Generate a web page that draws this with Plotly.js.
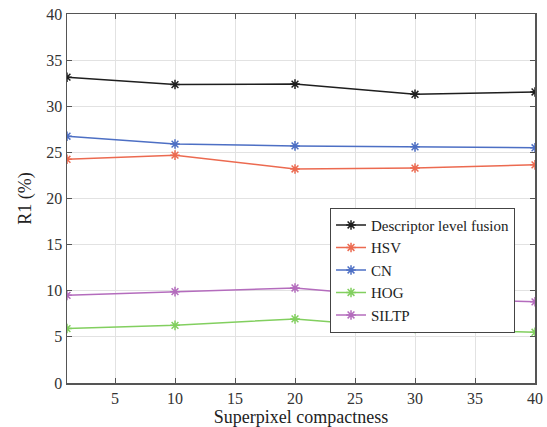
<!DOCTYPE html>
<html><head><meta charset="utf-8">
<script src="https://cdn.plot.ly/plotly-3.0.1.min.js"></script>
<style>body{margin:0;background:#fff}#c{width:547px;height:427px}</style>
</head><body><div id="c"></div>
<script>
const xVals = [1, 10, 20, 30, 40];
const fusion = [33.15, 32.35, 32.4, 31.3, 31.55];
const hsv = [24.25, 24.7, 23.2, 23.3, 23.65];
const cn = [26.75, 25.9, 25.7, 25.6, 25.5];
const hog = [5.9, 6.25, 6.95, 5.9, 5.5];
const siltp = [9.5, 9.9, 10.3, 9.2, 8.8];
const names = ['Descriptor level fusion', 'HSV', 'CN', 'HOG', 'SILTP'];
const colors = ['#1e1e1e', '#ec6a50', '#4d6fc4', '#82cf5f', '#b46cbd'];
const series = [fusion, hsv, cn, hog, siltp];
const xTicks = [5, 10, 15, 20, 25, 30, 35, 40];
const yTicks = [0, 5, 10, 15, 20, 25, 30, 35, 40];

const traces = series.map((s, i) => ({
  x: xVals, y: s, name: names[i], type: 'scatter', mode: 'lines+markers',
  line: {color: colors[i], width: 1.5},
  marker: {symbol: 'asterisk-open', size: 8, color: colors[i], line: {color: colors[i], width: 1.5}}
}));
const fam = 'Liberation Serif';
const layout = {
  width: 547, height: 427,
  margin: {l: 67, r: 12, t: 14, b: 44},
  paper_bgcolor: '#fff', plot_bgcolor: '#fff',
  font: {family: fam, size: 16, color: '#333'},
  showlegend: true,
  legend: {x: 0.562, y: 0.475, xanchor: 'left', yanchor: 'top', bgcolor: '#fff',
    bordercolor: '#444', borderwidth: 1, font: {family: fam, size: 15, color: '#222'},
    itemwidth: 30, tracegroupgap: 0},
  xaxis: {range: [1, 40], tickvals: xTicks, ticks: 'inside', ticklen: 5, tickcolor: '#555',
    showline: true, linecolor: '#555', linewidth: 1.5, mirror: 'ticks',
    showgrid: true, gridcolor: '#e2e2e2', zeroline: false,
    tickfont: {family: fam, size: 16, color: '#333'},
    title: {text: 'Superpixel compactness', font: {family: fam, size: 18, color: '#222'}, standoff: 3}},
  yaxis: {range: [0, 40], tickvals: yTicks, ticks: 'inside', ticklen: 5, tickcolor: '#555',
    showline: true, linecolor: '#555', linewidth: 1.5, mirror: 'ticks',
    showgrid: true, gridcolor: '#e2e2e2', zeroline: false,
    tickfont: {family: fam, size: 16, color: '#333'},
    title: {text: 'R1 (%)', font: {family: fam, size: 18, color: '#222'}, standoff: 10}}
};
Plotly.newPlot('c', traces, layout, {displayModeBar: false, staticPlot: true});
</script></body></html>
